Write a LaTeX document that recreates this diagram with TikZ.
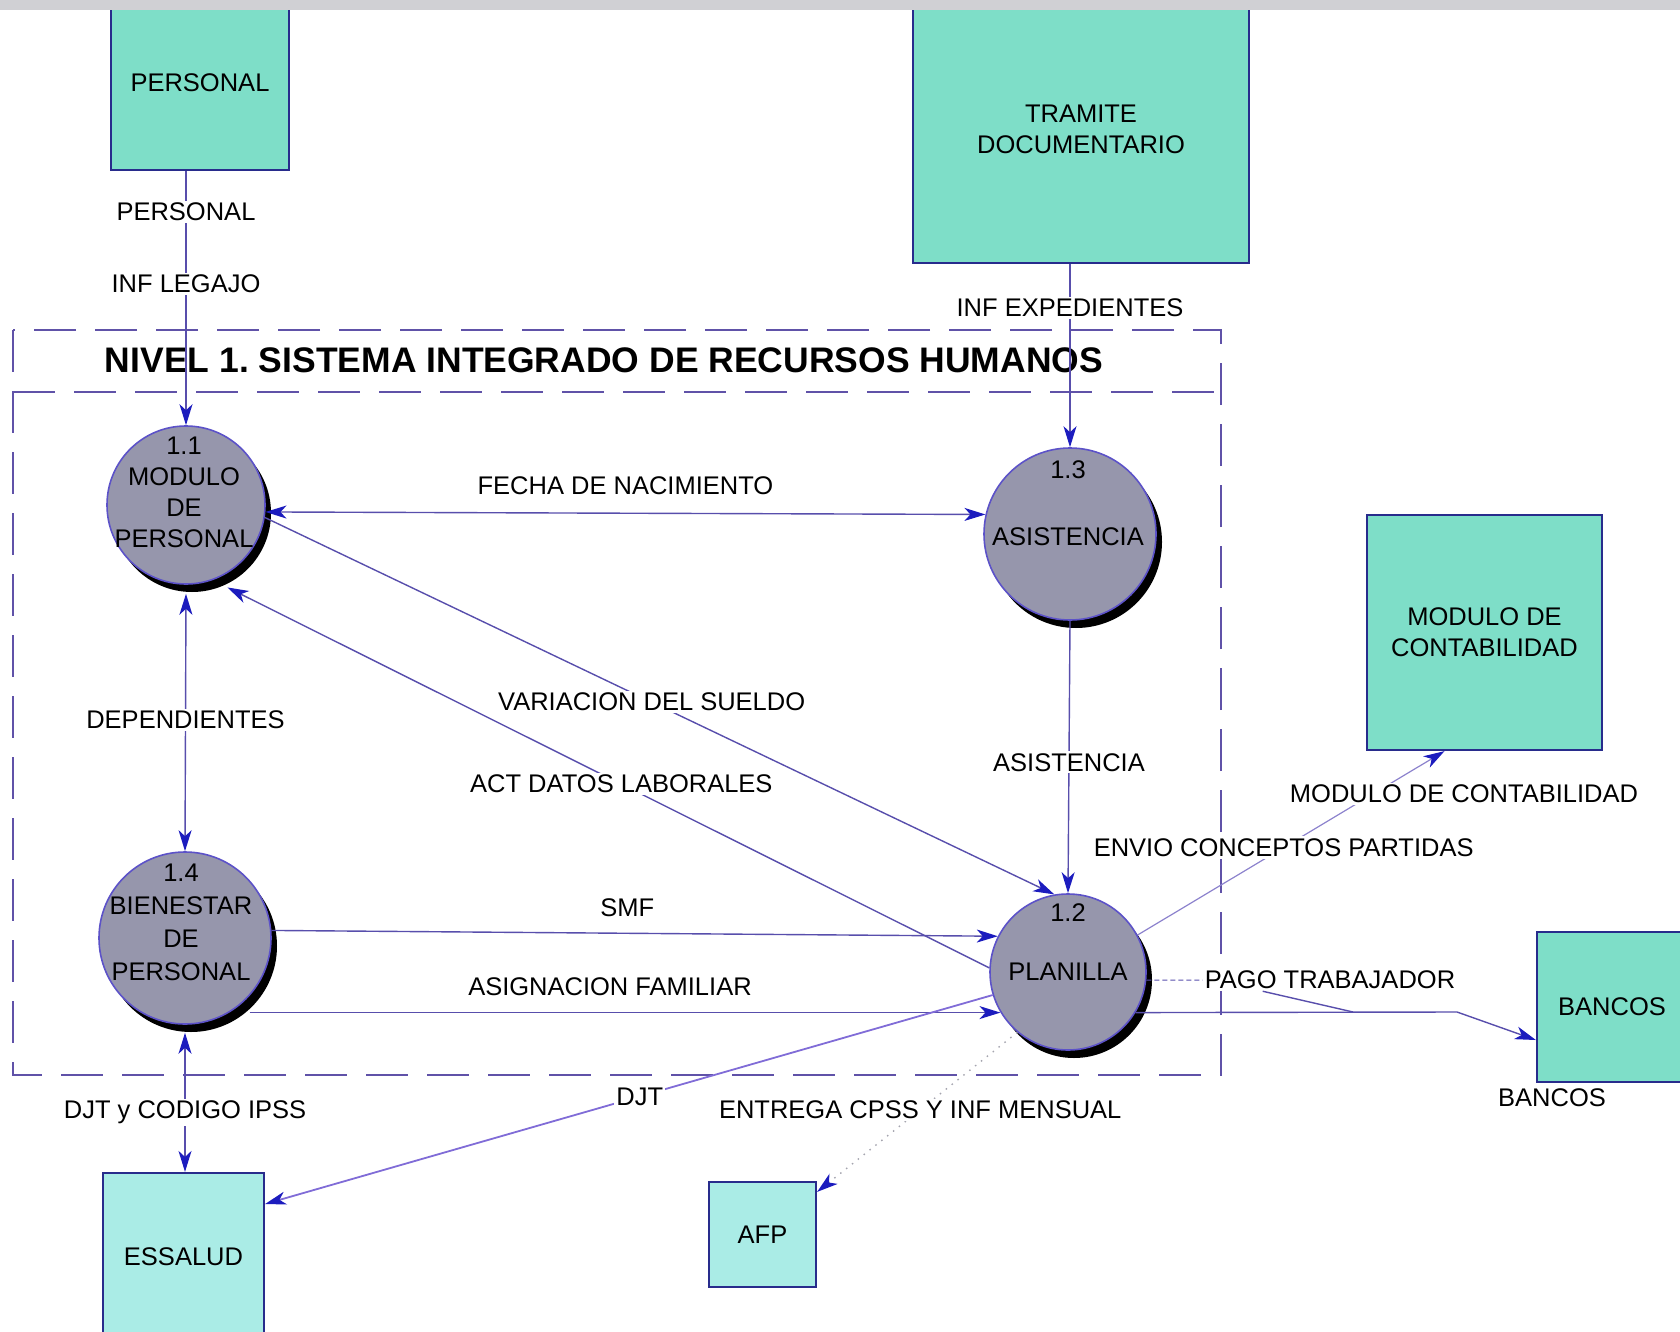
\documentclass[tikz,border=0pt]{standalone}
\usepackage{fontspec}
\setmainfont{Liberation Sans}
\usetikzlibrary{arrows.meta,shadows,calc}
\frenchspacing

\definecolor{boxteal}{RGB}{126,222,200}
\definecolor{boxpale}{RGB}{170,236,230}
\definecolor{boxedge}{RGB}{40,44,140}
\definecolor{procfill}{RGB}{150,150,172}
\definecolor{procedge}{RGB}{92,82,200}
\definecolor{flowcol}{RGB}{88,78,172}
\definecolor{flowpale}{RGB}{140,130,205}
\definecolor{djtcol}{RGB}{128,108,215}
\definecolor{dotcol}{RGB}{165,165,175}
\definecolor{tipcol}{RGB}{28,28,190}
\definecolor{framecol}{RGB}{96,82,168}
\definecolor{scanband}{RGB}{208,208,212}

\begin{document}
\begin{tikzpicture}[x=1pt,y=-1pt,
  txt/.style={font=\fontsize{25.5}{31}\selectfont, text=black, inner sep=1pt, align=center},
  lbl/.style={txt, fill=white, inner sep=2pt},
  entity/.style={rectangle, draw=boxedge, line width=2.2pt, fill=boxteal, txt, inner sep=0pt},
  paleentity/.style={entity, fill=boxpale},
  process/.style={circle, draw=procedge, line width=1.6pt, fill=procfill, inner sep=0pt,
    drop shadow={shadow xshift=6pt, shadow yshift=-8pt, fill=black, opacity=1}},
  ptext/.style={txt, inner sep=0pt},
  flow/.style={draw=flowcol, line width=1.4pt},
  paleflow/.style={draw=flowpale, line width=1.2pt},
  djtflow/.style={draw=djtcol, line width=1.8pt},
  dotflow/.style={draw=dotcol, line width=1.4pt, dash pattern=on 1.5pt off 6pt},
  frame/.style={draw=framecol, line width=2.2pt, dash pattern=on 42pt off 19pt},
  tipshape/.tip={Stealth[length=21pt,width=13pt,inset=6pt,color=tipcol]},
  fwd/.style={-{tipshape}},
  both/.style={{tipshape}-{tipshape}}
]
\useasboundingbox (0,0) rectangle (1680,1332);
\clip (0,0) rectangle (1680,1332);

% system boundary with its heading
\draw[frame] (13,330) rectangle (1221,1075);
\draw[frame] (13,392) -- (1221,392);
\node[font=\fontsize{35.5}{40}\selectfont\bfseries, inner sep=0pt] (title) at (604,360)
  {NIVEL 1. SISTEMA INTEGRADO DE RECURSOS HUMANOS};

% external entities
\node[entity, minimum width=178pt, minimum height=175pt] (pers) at (200,82.5) {PERSONAL};
\node[entity, minimum width=336pt, minimum height=268pt] (tram) at (1081,129) {TRAMITE\\DOCUMENTARIO};
\node[entity, minimum width=235pt, minimum height=235pt] (modc) at (1484.5,632.5) {MODULO DE\\CONTABILIDAD};
\node[entity, minimum width=150pt, minimum height=150pt] (banc) at (1612,1007) {BANCOS};
\node[paleentity, minimum width=161pt, minimum height=168pt] (ess) at (183.5,1257) {ESSALUD};
\node[paleentity, minimum width=107pt, minimum height=105pt] (afp) at (762.5,1234.5) {AFP};

% processes
\node[process, minimum size=158pt] (c11) at (186,505) {};
\node[process, minimum size=172pt] (c13) at (1070,534) {};
\node[process, minimum size=172pt] (c14) at (185,938) {};
\node[process, minimum size=156pt] (c12) at (1068,972) {};

\node[ptext] (t11) at (184,492) {1.1\\MODULO\\DE\\PERSONAL};
\node[ptext] (t13a) at (1068,470) {1.3};
\node[ptext] (t13b) at (1068,537) {ASISTENCIA};
\node[txt, font=\fontsize{25.5}{33}\selectfont, inner sep=0pt] (t14) at (181,922) {1.4\\BIENESTAR\\DE\\PERSONAL};
\node[ptext] (t12a) at (1068,913) {1.2};
\node[ptext] (t12b) at (1068,972) {PLANILLA};

% data flows
\coordinate (persout) at (c11.north |- pers.south);
\draw[flow, fwd] (persout) -- (c11.north);

\coordinate (tramout) at (c13.north |- tram.south);
\draw[flow, fwd] (tramout) -- (c13.north);

\draw[flow, both] (c11.-5) -- (c13.167)
  node[txt, pos=0.5, above=17pt] (lfecha) {FECHA DE NACIMIENTO};

\draw[flow, fwd] (c11.-9) -- (c12.100);

\coordinate (actin) at ([xshift=4pt,yshift=-12pt]c11.-62);
\draw[flow, fwd] (c12.177) -- (actin);

\draw[flow, fwd] (c13.south) -- (c12.north);

\coordinate (depin) at ([yshift=-9pt]c11.south);
\draw[flow, both] (depin) -- (c14.north);

\draw[flow, fwd] (c14.5) -- (c12.153)
  node[txt, pos=0.49, above=15pt] (lsmf) {SMF};

\draw[flow, fwd] (c14.-42 |- c12.211) -- (c12.211)
  node[txt, pos=0.48, above=15pt] (lasig) {ASIGNACION FAMILIAR};

\coordinate (ipssin) at ([yshift=-8pt]c14.south);
\coordinate (essin) at (c14.south |- ess.north);
\draw[flow, both] (ipssin) -- (essin);

\coordinate (djtin) at ([yshift=53pt]ess.east);
\draw[djtflow, fwd] (c12.197) -- (djtin);

\coordinate (afpin) at ([yshift=-11pt]afp.north east);
\draw[dotflow, fwd] (c12.-130) -- (afpin);

\coordinate (modin) at ([xshift=-40pt]modc.south);
\draw[paleflow, fwd] (c12.28) -- (modin);

\coordinate (pbend) at (1457,1012);
\draw[flow, fwd] (c12.-31) -- (pbend) -- ([yshift=-33pt]banc.west);

% flow names set over their lines
\node[lbl] (lpers) at ($(persout)!0.16!(c11.north)$) {PERSONAL};
\node[lbl] (lleg) at ($(persout)!0.444!(c11.north)$) {INF LEGAJO};
\node[lbl] (lexp) at ($(tramout)!0.238!(c13.north)$) {INF EXPEDIENTES};
\node[lbl] (lvar) at ($(c11.-9)!0.49!(c12.100)$) {VARIACION DEL SUELDO};
\node[lbl] (lact) at ($(c12.177)!0.483!(actin)$) {ACT DATOS LABORALES};
\node[lbl] (lasis) at ($(c13.south)!0.52!(c12.north)$) {ASISTENCIA};
\node[lbl] (ldep) at ($(depin)!0.49!(c14.north)$) {DEPENDIENTES};
\node[lbl] (lipss) at ($(ipssin)!0.574!(essin)$) {DJT y CODIGO IPSS};
\node[lbl] (ldjt) at ($(c12.197)!0.485!(djtin)$) {DJT};
\node[lbl] (lent) at ($(c12.-130)!0.485!(afpin)$) {ENTREGA CPSS Y INF MENSUAL};
\node[lbl] (lenv) at ($(c12.28)!0.476!(modin)$) {ENVIO CONCEPTOS PARTIDAS};
\node[lbl] (lmodc) at (1464,794) {MODULO DE CONTABILIDAD};
\node[lbl] (lpago) at (1330,980) {PAGO TRABAJADOR};
\draw[flow, line width=1pt, dash pattern=on 5pt off 3pt] (c12.-6) -- (lpago.west);
\draw[flow] ([xshift=60pt]lpago.south west) -- ([xshift=-104pt]pbend);

\node[txt] (lbanc) at (1552,1098) {BANCOS};

% scanner strip along the top edge
\fill[scanband] (0,0) rectangle (1680,10);
\end{tikzpicture}
\end{document}
